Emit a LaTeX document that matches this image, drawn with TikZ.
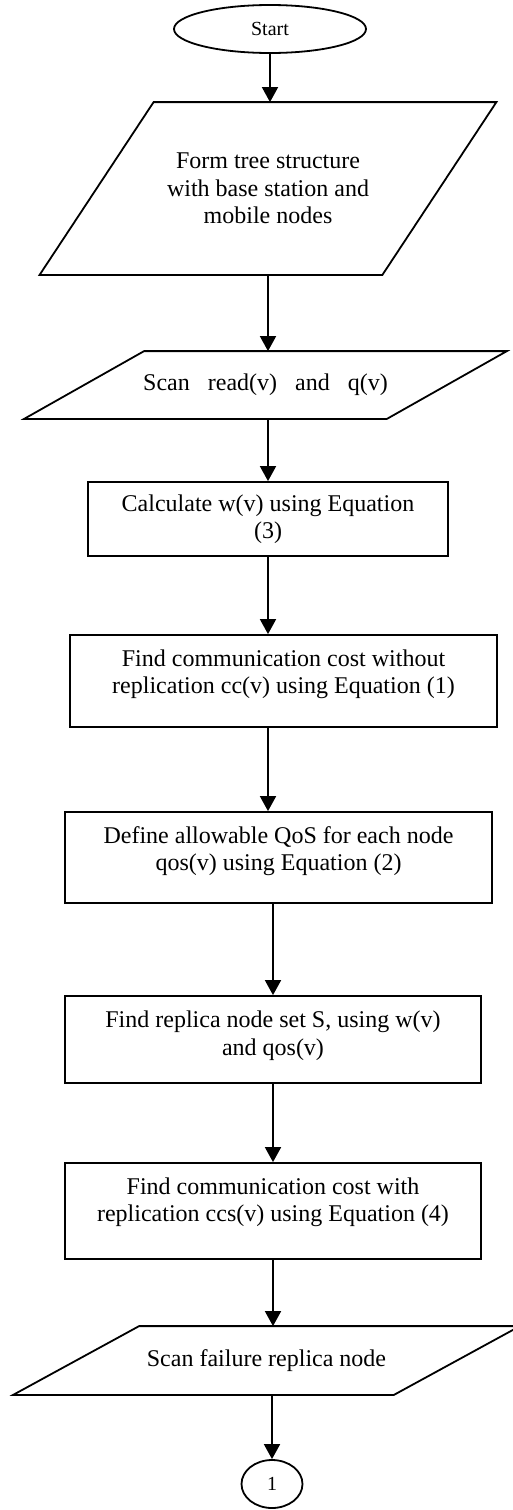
\documentclass[tikz,border=0pt]{standalone}
\usepackage{fontspec}
\setmainfont{Liberation Serif}
\usetikzlibrary{arrows.meta,shapes.geometric}

\begin{document}
\begin{tikzpicture}[x=1pt, y=-1pt,
    line width=1.8pt,
    txt/.style={font=\fontsize{24}{27.5}\selectfont, align=center},
    flow/.style={-{Triangle[length=15pt,width=16pt]}},
    stepbox/.style={txt, draw, rectangle, inner sep=0pt},
    io/.style={txt, rectangle, inner sep=0pt},
    term/.style={draw, ellipse, inner sep=0pt, font=\fontsize{20}{24}\selectfont}]
  \useasboundingbox (0,0) rectangle (513,1510);
  % debut et entrees
  \node[term, minimum width=192pt, minimum height=48pt] (start) at (270,29) {Start};
  \node[io, minimum width=455pt, minimum height=171pt] (tree) at (268,188.5)
        {Form tree structure\\with base station and\\mobile nodes};
  \node[io, minimum width=481pt, minimum height=66pt] (scanrq) at (265.5,385)
        {Scan\ \ \ read(v)\ \ \ and\ \ \ q(v)};
  % calculs
  \node[stepbox, minimum width=360pt, minimum height=74pt] (calc) at (268,519)
        {Calculate w(v) using Equation\\(3)};
  \node[stepbox, minimum width=427pt, minimum height=92pt, text depth=18.3pt] (ccost) at (283.5,681)
        {Find communication cost without\\replication cc(v) using Equation (1)};
  \node[stepbox, minimum width=427pt, minimum height=91pt, text depth=18.3pt] (qos) at (278.5,857.5)
        {Define allowable QoS for each node\\qos(v) using Equation (2)};
  \node[stepbox, minimum width=416pt, minimum height=87pt, text depth=12.3pt] (replset) at (273,1039.5)
        {Find replica node set S, using w(v)\\and qos(v)};
  \node[stepbox, minimum width=416pt, minimum height=96pt, text depth=22.3pt] (ccsost) at (273,1211)
        {Find communication cost with\\replication ccs(v) using Equation (4)};
  % panne et connecteur
  \node[io, minimum width=505pt, minimum height=67pt] (scanfail) at (266.5,1360.5)
        {Scan failure replica node};
  \node[term, minimum width=61pt, minimum height=48pt] (conn) at (272,1484) {1};
  % contours des parallelogrammes (decalage du haut)
  \foreach \n/\d in {tree/114, scanrq/120, scanfail/126}
    \draw ([xshift=\d pt]\n.north west) -- (\n.north east)
      -- ([xshift=-\d pt]\n.south east) -- (\n.south west) -- cycle;
  % fleches
  \draw[flow] (start.south) -- (start.south |- tree.north);
  \draw[flow] (tree.south) -- (tree.south |- scanrq.north);
  \draw[flow] (calc.north |- scanrq.south) -- (calc.north);
  \draw[flow] (calc.south) -- (calc.south |- ccost.north);
  \draw[flow] (ccost.south -| calc.south) -- (qos.north -| calc.south);
  \draw[flow] (replset.north |- qos.south) -- (replset.north);
  \draw[flow] (replset.south) -- (ccsost.north);
  \draw[flow] (ccsost.south) -- (ccsost.south |- scanfail.north);
  \draw[flow] (conn.north |- scanfail.south) -- (conn.north);
\end{tikzpicture}
\end{document}
